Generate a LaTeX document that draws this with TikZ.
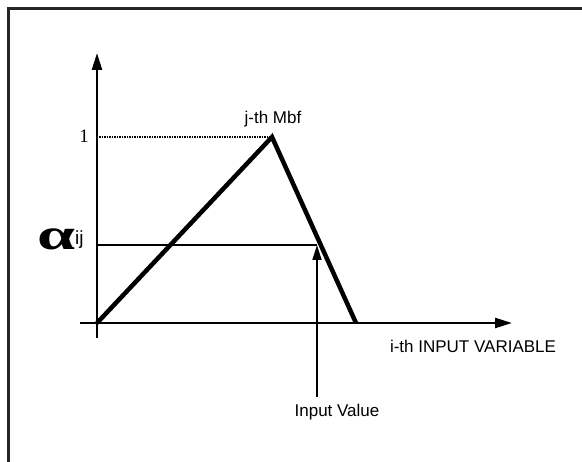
\documentclass[tikz,border=0pt]{standalone}
\usepackage{fontspec}
\setmainfont{Liberation Sans}
\newfontfamily\numfont{Liberation Serif}
\usetikzlibrary{arrows.meta, positioning}

\begin{document}
\begin{tikzpicture}[x=1pt, y=-1pt,
  axis/.style={-{Triangle[length=17pt, width=10pt]}, line width=2.4pt},
  pointer/.style={-{Triangle[length=15pt, width=9pt]}, line width=1.7pt},
  mbf/.style={line width=4.5pt, line join=miter},
  guide/.style={line width=1.5pt},
  dots/.style={line width=1.2pt, dash pattern=on 1.5pt off 1pt},
  label/.style={font=\fontsize{17}{20}\selectfont, inner sep=0pt, anchor=base},
  frameline/.style={line width=3pt, draw=black!85}
]
\useasboundingbox (0,0) rectangle (582,462);

% frame
\draw[frameline] (8,470) -- (8,9) -- (590,9);

% key points
\coordinate (origin) at (97,323);
\coordinate (ytop) at (97,53);
\coordinate (ybot) at (97,338);
\coordinate (xleft) at (80,323);
\coordinate (xright) at (512,323);
\coordinate (peak) at (272,137);
\coordinate (foot) at (356,323);
\coordinate (ymax) at (99,137);
\coordinate (alev) at (97,245);
\coordinate (cut) at (317,245);
\coordinate (ival) at (317,397);

% axes
\draw[axis] (ybot) -- (ytop);
\draw[axis] (xleft) -- (xright);

% membership function
\draw[mbf] (origin) -- (peak) -- (foot);
\draw[dots] (ymax) -- (peak);
\draw[guide] (alev) -- (cut);
\draw[pointer] (ival) -- (cut);

% labels
\node[label, font=\numfont\fontsize{19}{22}\selectfont, anchor=base east] (one) at (89,143) {1};
\node[label] (mbfname) at (273,124) {j-th Mbf};
\node[label, anchor=base west] (alpha) at (37,250) {\numfont\bfseries\fontsize{44}{48}\selectfont\scalebox{1.55}[1]{α}};
\node[label, font=\fontsize{19}{22}\selectfont, anchor=base west] (ij) at (75,245) {ij};
\node[label] (xname) at (473,353) {i-th INPUT VARIABLE};
\node[label] (ivname) at (337,417) {Input Value};
\end{tikzpicture}
\end{document}
